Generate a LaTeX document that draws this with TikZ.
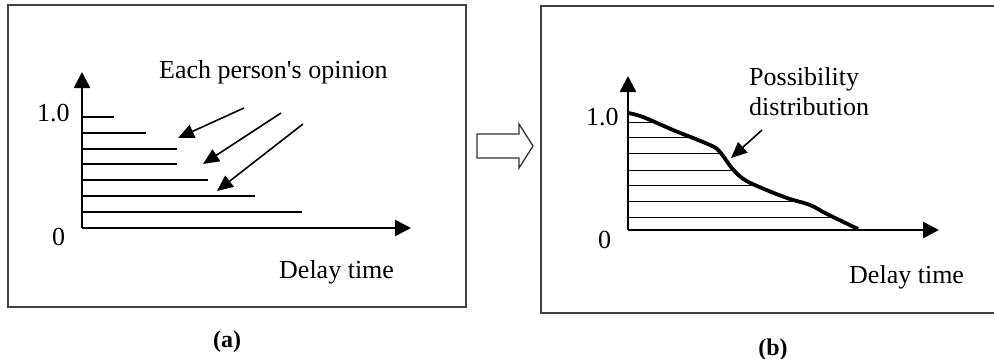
\documentclass[tikz,border=0pt]{standalone}
\usepackage{fontspec}
\setmainfont{Liberation Serif}[Ligatures=TeXOff]
\usetikzlibrary{arrows.meta}
\tikzset{
  frame/.style={draw=black!75, line width=1.4pt},
  axis/.style={line width=2.6pt, -{Triangle[length=16pt,width=16pt]}},
  opline/.style={line width=2pt},
  hatch/.style={line width=1pt},
  note/.style={line width=1.6pt, -{Triangle[length=16pt,width=14pt]}},
  lbl/.style={inner sep=0pt, font=\fontsize{26}{30}\selectfont},
  captxt/.style={inner sep=0pt, font=\bfseries\fontsize{24}{28}\selectfont},
}
\begin{document}
\begin{tikzpicture}[x=1pt,y=-1pt]
\useasboundingbox (0,0) rectangle (994,359);
% frames
\draw[frame] (8,5) rectangle (466,307);
\draw[frame] (994,6) -- (541,6) -- (541,313) -- (994,313);
% hollow arrow
\draw[line width=1.3pt, black!80] (477,134) -- (519,134) -- (519,124) -- (533,146) -- (519,168) -- (519,158) -- (477,158) -- cycle;

% ---------- (a) ----------
\coordinate (ao) at (82,228);
\coordinate (ay) at (82,72);
\coordinate (ax) at (411,228);
\foreach \y/\x in {117/114, 133/146, 149/177, 164/177, 180/208, 196/255, 212/302}
  \draw[opline] (82,\y) -- (\x,\y);
\draw[axis] (ao) -- (ay);
\draw[axis] (ao) -- (ax);
\coordinate (n1s) at (244,108); \coordinate (n1e) at (178,138);
\coordinate (n2s) at (281,113); \coordinate (n2e) at (203,164);
\coordinate (n3s) at (303,124); \coordinate (n3e) at (217,191);
\draw[note] (n1s) -- (n1e);
\draw[note] (n2s) -- (n2e);
\draw[note] (n3s) -- (n3e);
\node[lbl, anchor=base west] (tEach) at (159,78) {Each person's opinion};
\node[lbl, anchor=base west] (tA10) at (37,121) {1.0};
\node[lbl, anchor=base west] (tA0) at (52,245) {0};
\node[lbl, anchor=base west] (tAdt) at (279,278) {Delay time};
\node[captxt, anchor=base] (capa) at (227,347) {(a)};

% ---------- (b) ----------
\coordinate (bo) at (628,230);
\coordinate (by) at (628,76);
\coordinate (bx) at (939,230);
\begin{scope}
\clip (628,113) plot[smooth, tension=0.6] coordinates {(628,113) (643,117) (673,130) (710,145) (720,152) (731,167) (742,178) (757,186) (787,198) (810,205) (827,214) (858,229)} -- (628,230) -- cycle;
\foreach \y in {122,137,153,170,185,201,217}
  \draw[hatch] (628,\y) -- (900,\y);
\end{scope}
\draw[line width=3.8pt] plot[smooth, tension=0.6] coordinates {(628,113) (643,117) (673,130) (710,145) (720,152) (731,167) (742,178) (757,186) (787,198) (810,205) (827,214) (858,229)};
\draw[axis] (bo) -- (by);
\draw[axis] (bo) -- (bx);
\coordinate (p1s) at (762,130); \coordinate (p1e) at (731,158);
\draw[note] (p1s) -- (p1e);
\node[lbl, anchor=base west] (tPoss) at (749,85) {Possibility};
\node[lbl, anchor=base west] (tDist) at (749,115) {distribution};
\node[lbl, anchor=base west] (tB10) at (586,125) {1.0};
\node[lbl, anchor=base west] (tB0) at (598,248) {0};
\node[lbl, anchor=base west] (tBdt) at (849,283) {Delay time};
\node[captxt, anchor=base] (capb) at (773,355) {(b)};
\end{tikzpicture}
\end{document}
